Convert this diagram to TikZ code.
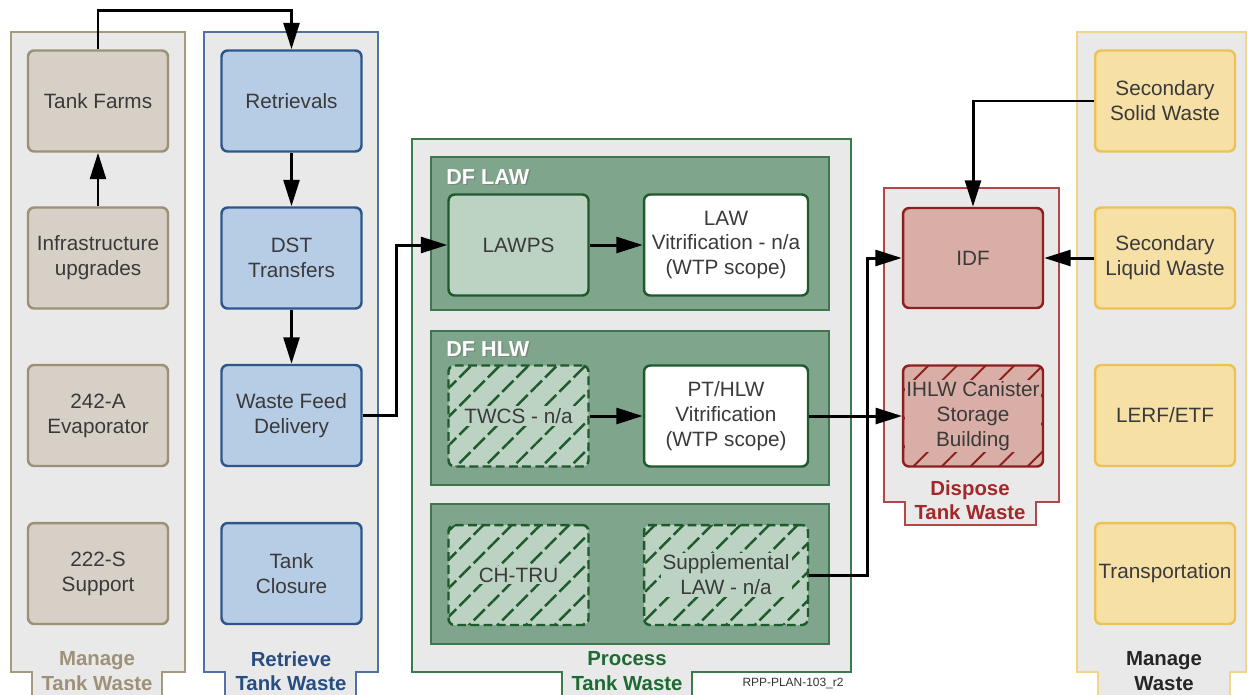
\documentclass[tikz,border=0pt]{standalone}
\usepackage{fontspec}
\setmainfont{Liberation Sans}
\usetikzlibrary{arrows.meta,patterns.meta}
\definecolor{colbg}{HTML}{E9E9E9}
\definecolor{tanborder}{HTML}{A69A7E}
\definecolor{tanfill}{HTML}{D7D0C6}
\definecolor{tanbox}{HTML}{9C9077}
\definecolor{tanlabel}{HTML}{9E9177}
\definecolor{bluefill}{HTML}{B7CCE5}
\definecolor{bluebox}{HTML}{2E568C}
\definecolor{blueborder}{HTML}{4F70A0}
\definecolor{bluelabel}{HTML}{284D80}
\definecolor{greenpanel}{HTML}{7FA68C}
\definecolor{greenpanelborder}{HTML}{3E7650}
\definecolor{greenlight}{HTML}{BCD2C3}
\definecolor{greenbox}{HTML}{1E5A2C}
\definecolor{greenborder}{HTML}{3C7A4E}
\definecolor{greenlabel}{HTML}{1F6A33}
\definecolor{redfill}{HTML}{D8AEA6}
\definecolor{redbox}{HTML}{8E1F1F}
\definecolor{redborder}{HTML}{B04848}
\definecolor{redlabel}{HTML}{A3282A}
\definecolor{yelfill}{HTML}{F6E0A6}
\definecolor{yelbox}{HTML}{EBC253}
\definecolor{yelborder}{HTML}{F2D58A}
\definecolor{txt}{HTML}{3A3A3A}
\begin{document}
\begin{tikzpicture}[x=0.02cm,y=-0.02cm,
  boxfont/.style={font=\fontsize{11.8}{14.2}\selectfont},
  box/.style={rounded corners=3.5pt, line width=1.4pt, minimum width=2.8cm,
    minimum height=2.02cm, align=center, text=txt, boxfont, inner sep=0pt},
  tanb/.style={box, draw=tanbox, fill=tanfill},
  blueb/.style={box, draw=bluebox, fill=bluefill},
  greenb/.style={box, draw=greenbox, fill=greenlight},
  whiteb/.style={box, draw=greenbox, fill=white},
  hatchg/.style={box, draw=greenbox, dash pattern=on 5pt off 2.5pt,
    preaction={fill=greenlight},
    pattern={Lines[angle=45,distance=11.5pt,line width=1.4pt]}, pattern color=greenbox},
  hatchr/.style={box, draw=redbox,
    preaction={fill=redfill},
    pattern={Lines[angle=45,distance=11.5pt,line width=1.1pt]}, pattern color=redbox},
  redb/.style={box, draw=redbox, fill=redfill},
  yelb/.style={box, draw=yelbox, fill=yelfill},
  htext/.style={align=center, text=txt, boxfont, inner sep=1.2pt},
  collabel/.style={align=center, font=\bfseries\fontsize{11.6}{13.8}\selectfont},
  col/.style={fill=colbg, line width=0.8pt},
  panel/.style={fill=greenpanel, draw=greenpanelborder, line width=0.8pt},
  dflabel/.style={anchor=west, text=white, font=\bfseries\fontsize{12.3}{14}\selectfont, inner sep=0pt},
  arr/.style={line width=1.7pt, -{Triangle[length=15pt,width=9pt]}}
]
\fill[white] (0,0) rectangle (1248,694);
\useasboundingbox (0,0) rectangle (1248,694);
\clip (0,0) rectangle (1248,694);

% columns
\draw[col, draw=tanborder] (11,32) -- (185,32) -- (185,672) -- (162,672) -- (162,700) -- (32,700) -- (32,672) -- (11,672) -- cycle;
\draw[col, draw=blueborder] (204,32) -- (378,32) -- (378,672) -- (356,672) -- (356,700) -- (225,700) -- (225,672) -- (204,672) -- cycle;
\draw[col, draw=greenborder] (412,139) -- (851,139) -- (851,672) -- (692,672) -- (692,700) -- (562,700) -- (562,672) -- (412,672) -- cycle;
\draw[col, draw=redborder] (884,188) -- (1059,188) -- (1059,502) -- (1036,502) -- (1036,525) -- (905,525) -- (905,502) -- (884,502) -- cycle;
\draw[col, draw=yelborder] (1077,32) -- (1246,32) -- (1246,672) -- (1230,672) -- (1230,700) -- (1098,700) -- (1098,672) -- (1077,672) -- cycle;

% column labels
\node[collabel, text=tanlabel] (lab1) at (97,671) {Manage\\Tank Waste};
\node[collabel, text=bluelabel] (lab2) at (291,671) {Retrieve\\Tank Waste};
\node[collabel, text=greenlabel] (lab3) at (627,671) {Process\\Tank Waste};
\node[collabel, text=redlabel] (lab4) at (970,500) {Dispose\\Tank Waste};
\node[collabel, text=black!85] (lab5) at (1164,671) {Manage\\Waste};

% process panels
\draw[panel] (431,157) rectangle (829,310);
\draw[panel] (431,331) rectangle (829,485);
\draw[panel] (431,504) rectangle (829,644);
\node[dflabel, text=black!55, opacity=0.6] (dflawsh) at (447.5,178.5) {DF LAW};
\node[dflabel] (dflaw) at (446,177) {DF LAW};
\node[dflabel, text=black!55, opacity=0.6] (dfhlwsh) at (447.5,350.5) {DF HLW};
\node[dflabel] (dfhlw) at (446,349) {DF HLW};

% column 1
\node[tanb] (tf) at (98,101) {Tank Farms};
\node[tanb] (infra) at (98,258) {Infrastructure\\upgrades};
\node[tanb] (evap) at (98,415.5) {242-A\\Evaporator};
\node[tanb] (s222) at (98,573.5) {222-S\\Support};

% column 2
\node[blueb] (ret) at (291.5,101) {Retrievals};
\node[blueb] (dst) at (291.5,258) {DST\\Transfers};
\node[blueb] (wfd) at (291.5,415.5) {Waste Feed\\Delivery};
\node[blueb] (tc) at (291.5,573.5) {Tank\\Closure};

% process boxes
\node[greenb] (lawps) at (518.5,245) {LAWPS};
\node[whiteb, minimum width=3.28cm] (lawv) at (726,245) {LAW\\Vitrification - n/a\\(WTP scope)};
\node[hatchg] (twcs) at (518.5,416) {};
\node[htext, fill=greenlight] (twcst) at (twcs.center) {TWCS - n/a};
\node[whiteb, minimum width=3.28cm] (pthlw) at (726,416) {PT/HLW\\Vitrification\\(WTP scope)};
\node[hatchg, minimum height=2.0cm] (chtru) at (518.5,575) {};
\node[htext, fill=greenlight] (chtrut) at (chtru.center) {CH-TRU};
\node[hatchg, minimum width=3.28cm, minimum height=2.0cm] (supp) at (726,575) {};
\node[htext, fill=greenlight] (suppt) at (supp.center) {Supplemental\\LAW - n/a};

% dispose
\node[redb, minimum height=2.0cm] (idf) at (973,258) {IDF};
\node[hatchr] (ihlw) at (973,416) {};
\node[htext, fill=redfill, inner sep=0.6pt] (ihlwt) at (ihlw.center) {IHLW Canister\\Storage\\Building};

% column 5
\node[yelb] (ssw) at (1165,101) {Secondary\\Solid Waste};
\node[yelb] (slw) at (1165,258) {Secondary\\Liquid Waste};
\node[yelb] (lerf) at (1165,415.5) {LERF/ETF};
\node[yelb] (trans) at (1165,573.5) {Transportation};

% arrows
\draw[arr] (tf.north) -- ++(0,-39) -| (ret.north);
\draw[arr] (infra.north) -- (tf.south);
\draw[arr] (ret.south) -- (dst.north);
\draw[arr] (dst.south) -- (wfd.north);
\draw[arr] (wfd.east) -- ++(34,0) |- (lawps.west);
\draw[arr] (lawps.east) -- (lawv.west);
\draw[arr] (twcs.east) -- (pthlw.west);
\draw[arr] (pthlw.east) -- (ihlw.west);
\draw[arr] (supp.east) -- ++(58,0) |- (idf.west);
\draw[arr] (ssw.west) -| (idf.north);
\draw[arr] (slw.west) -- (idf.east);

\node[text=black!80, font=\fontsize{6.8}{8}\selectfont, inner sep=0pt] (refid) at (793,684) {RPP-PLAN-103\_r2};
\end{tikzpicture}
\end{document}
